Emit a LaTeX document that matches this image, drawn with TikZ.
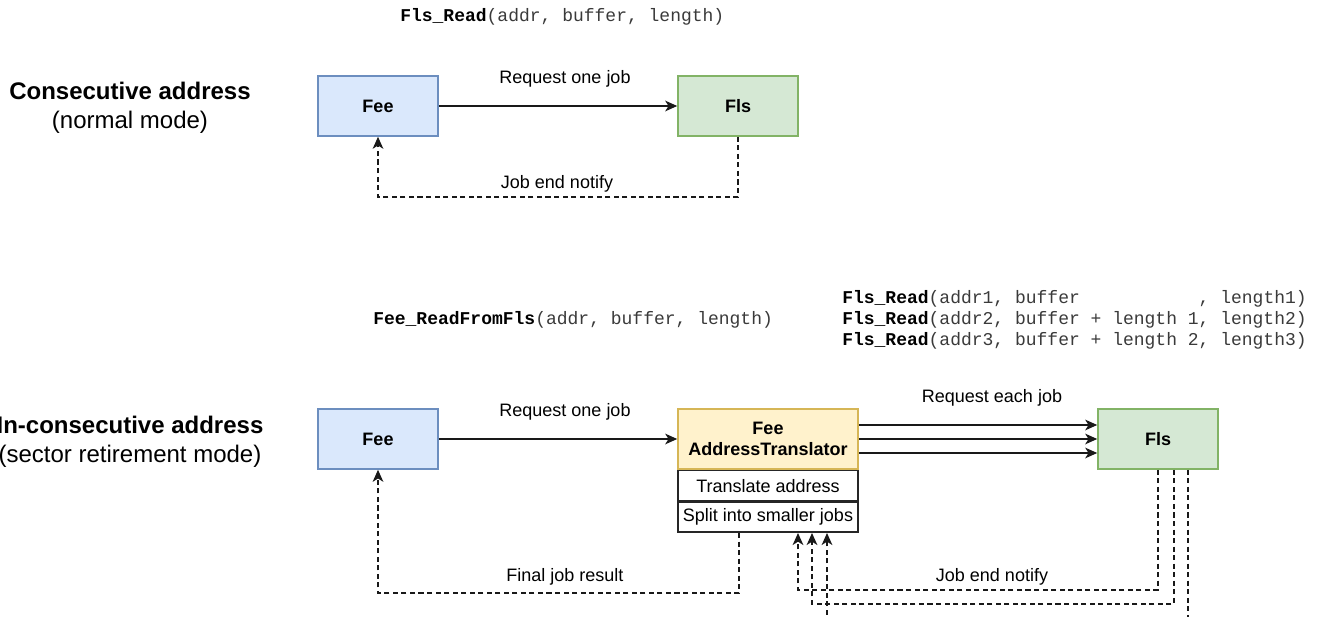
\documentclass[tikz,border=0pt]{standalone}
\usepackage{fontspec}
\setmainfont{Liberation Sans}
\setsansfont{Liberation Sans}
\setmonofont{Liberation Mono}
\usetikzlibrary{arrows.meta,calc}
\definecolor{feeF}{HTML}{DAE8FC}
\definecolor{feeD}{HTML}{6C8EBF}
\definecolor{flsF}{HTML}{D5E8D4}
\definecolor{flsD}{HTML}{82B366}
\definecolor{trF}{HTML}{FFF2CC}
\definecolor{trD}{HTML}{D6B656}
\definecolor{codegray}{HTML}{3A3A3A}
\begin{document}
\begin{tikzpicture}[x=0.75pt,y=-0.75pt,
  box/.style={draw, line width=1.2pt, minimum width=90pt, minimum height=45pt, inner sep=0pt,
    font=\fontsize{13.5}{15.75}\selectfont\bfseries, align=center},
  feebox/.style={box, fill=feeF, draw=feeD},
  flsbox/.style={box, fill=flsF, draw=flsD},
  trbox/.style={box, fill=trF, draw=trD, minimum width=135pt},
  rowbox/.style={draw=black!85, fill=white, line width=1.2pt, minimum width=135pt, minimum height=22.5pt,
    inner sep=0pt, font=\fontsize{13.5}{15.75}\selectfont},
  lbl/.style={font=\fontsize{13.5}{15.75}\selectfont, inner sep=0pt},
  req/.style={line width=1.2pt, draw=black!90, -{Stealth[length=9pt,width=8pt,inset=2.5pt]}},
  notif/.style={req, dash pattern=on 3.8pt off 2.6pt},
  code/.style={font=\fontsize{13.5}{15.75}\selectfont\ttfamily, inner sep=0pt, text=codegray, align=left},
  titletxt/.style={font=\fontsize{18}{21.75}\selectfont, align=center, inner sep=0pt}
]
\useasboundingbox (0,0) rectangle (1318,617);
\clip (0,0) rectangle (1318,617);

% ---------- top part ----------
\node[code, anchor=west] (c1) at (400,17) {\textcolor{black}{\textbf{Fls\_Read}}(addr, buffer, length)};
\node[titletxt] (t1) at (130,107.5) {\textbf{Consecutive address}\\(normal mode)};

\node[feebox] (fee1) at (378,106) {Fee};
\node[flsbox] (fls1) at (738,106) {Fls};
\draw[req] (fee1) -- (fls1);
\node[lbl] (l1) at (565,79) {Request one job};
\draw[notif] (fls1.south) -- ++(0,60) -| (fee1.south);
\node[lbl] (l2) at (557,184) {Job end notify};

% ---------- bottom part ----------
\node[code, anchor=west] (c2) at (373,320) {\textcolor{black}{\textbf{Fee\_ReadFromFls}}(addr, buffer, length)};
\node[code, anchor=west] (c3) at (842,320) {\textcolor{black}{\textbf{Fls\_Read}}(addr1, buffer\hphantom{ + length 1}, length1)\\
\textcolor{black}{\textbf{Fls\_Read}}(addr2, buffer + length 1, length2)\\
\textcolor{black}{\textbf{Fls\_Read}}(addr3, buffer + length 2, length3)};
\node[titletxt] (t2) at (130,442) {\textbf{In-consecutive address}\\(sector retirement mode)};

\node[feebox] (fee2) at (378,439) {Fee};
\node[trbox] (tr) at (768,439) {Fee\\AddressTranslator};
\node[rowbox, anchor=north] (r1) at (tr.south) {Translate address};
\node[rowbox, anchor=north] (r2) at (r1.south) {Split into smaller jobs};
\node[flsbox] (fls2) at (1158,439) {Fls};

\draw[req] (fee2) -- (tr);
\node[lbl] (l3) at (565,412) {Request one job};

\draw[req] ($(tr.east)+(0,-14)$) -- ($(fls2.west)+(0,-14)$);
\draw[req] (tr.east) -- (fls2.west);
\draw[req] ($(tr.east)+(0,14)$) -- ($(fls2.west)+(0,14)$);
\node[lbl] (l4) at (992,398) {Request each job};

\draw[notif] ($(r2.south)+(-29,0)$) -- ++(0,60) -| (fee2.south);
\node[lbl] (l5) at (565,577) {Final job result};

\draw[notif] (fls2.south) -- ++(0,120) -| ($(r2.south)+(30,0)$);
\draw[notif] ($(fls2.south)+(16,0)$) -- ++(0,134) -| ($(r2.south)+(44,0)$);
\draw[notif] ($(fls2.south)+(30,0)$) -- ++(0,165) -| ($(r2.south)+(59,0)$);
\node[lbl] (l6) at (992,577) {Job end notify};
\end{tikzpicture}
\end{document}
